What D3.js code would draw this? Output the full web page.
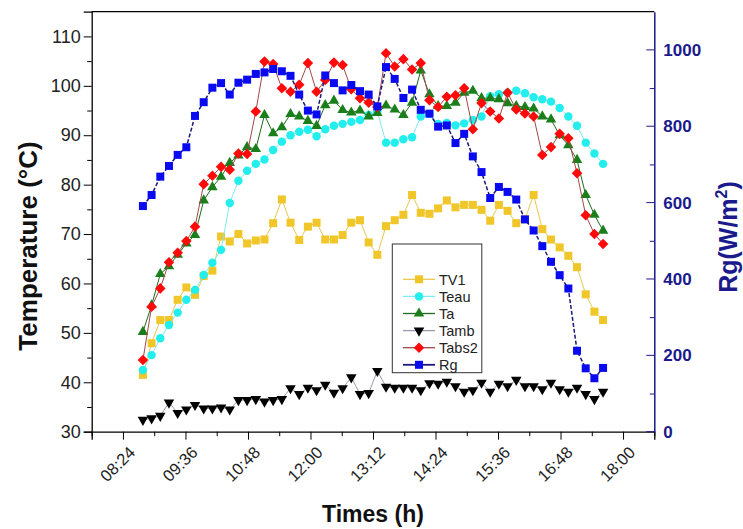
<!DOCTYPE html>
<html><head><meta charset="utf-8">
<script src="https://cdn.jsdelivr.net/npm/d3@7"></script>
<style>body{margin:0;background:#fff;} svg{display:block;font-family:"Liberation Sans",Arial,sans-serif;}</style>
</head><body><svg id="c" width="743" height="529"></svg>
<script>
// ---- data ----
const times = ["08:47","08:57","09:07","09:17","09:27","09:37","09:47","09:57","10:07","10:17",
"10:27","10:37","10:47","10:57","11:07","11:17","11:27","11:37","11:47","11:57",
"12:07","12:17","12:27","12:37","12:47","12:57","13:07","13:17","13:27","13:37",
"13:47","13:57","14:07","14:17","14:27","14:37","14:47","14:57","15:07","15:17",
"15:27","15:37","15:47","15:57","16:07","16:17","16:27","16:37","16:47","16:57",
"17:07","17:17","17:27","17:37"];
const TV1 = [41.5,47.9,52.6,52.6,56.7,59.2,57.7,61.5,62.6,69.5,
68.5,70.0,68.1,68.7,68.9,72.2,77.0,72.3,68.8,71.5,
72.3,68.9,68.9,69.8,72.3,72.8,68.3,65.8,71.6,72.8,
73.9,77.9,74.3,74.1,75.2,76.8,75.4,75.9,75.9,74.9,
72.7,75.9,74.7,72.2,73.0,77.9,71.0,68.9,67.3,65.6,
63.3,57.8,54.3,52.6];
const Teau = [42.5,45.5,48.9,51.6,54.1,56.7,58.7,61.7,64.2,66.8,
76.3,80.8,82.8,84.2,85.1,87.0,88.7,90.0,90.7,91.1,
89.8,91.2,91.9,92.3,92.7,93.1,94.1,94.8,88.5,88.5,
89.2,89.6,93.8,94.3,92.3,92.5,92.0,92.4,93.1,93.8,
97.9,98.3,98.6,99.0,98.5,97.7,97.3,96.8,95.5,93.8,
91.9,88.5,86.3,84.2];
const Ta = [50.2,55.6,61.9,63.5,65.8,68.1,69.8,76.8,79.5,81.6,
84.4,85.9,87.6,87.2,94.1,90.4,91.6,94.3,93.8,92.9,
91.9,96.1,97.0,95.1,94.6,95.0,93.8,94.5,96.0,95.2,
94.1,96.6,103.1,98.3,95.9,95.9,96.6,98.6,99.0,97.5,
97.5,97.3,96.5,95.9,95.7,95.4,93.8,93.2,90.0,88.0,
85.0,77.9,73.9,70.7];
const Tamb = [32.4,32.7,33.2,35.9,33.8,34.5,35.4,34.7,34.7,34.9,
34.5,36.4,36.4,36.6,36.1,36.4,36.6,38.8,37.6,38.9,
38.4,39.5,37.9,38.8,41.0,37.6,37.8,42.3,39.1,38.9,
38.9,38.9,38.4,39.8,39.7,40.1,39.2,38.1,38.4,39.9,
38.1,39.7,39.2,40.5,39.2,39.2,38.6,39.9,38.6,38.1,
38.9,37.6,36.6,38.1];
const Tabs2 = [44.5,55.3,59.0,64.3,66.2,68.6,71.5,80.1,81.8,83.6,
83.0,86.3,86.2,94.8,104.9,104.4,99.5,98.8,100.2,104.6,
98.8,101.2,104.7,104.2,99.3,97.5,96.6,95.7,106.6,103.9,
105.4,103.3,104.6,97.1,95.7,97.8,98.1,99.5,91.2,96.5,
94.8,93.4,98.6,95.2,94.4,93.8,86.0,87.6,90.3,89.4,
82.3,73.8,70.0,68.0];
const Rg = [591,620,668,696,725,745,827,863,901,913,
883,914,922,937,941,950,944,932,883,841,
831,933,913,894,908,892,883,852,955,924,
874,896,843,833,799,802,756,780,721,680,
612,641,628,608,556,527,486,445,410,375,
212,166,140,167];
const leftTicks = [30,40,50,60,70,80,90,100,110];
const rightTicks = [0,200,400,600,800,1000];
const xTickLabels = ["08:24","09:36","10:48","12:00","13:12","14:24","15:36","16:48","18:00"];
const xDomain = ["07:48","18:36"];

// ---- drawing ----
const parse = s => { const [h,m] = s.split(":").map(Number); return h*60+m; };
const svg = d3.select("#c");
const m = {l:91.7, r:654.3, t:11.7, b:431.7};
const navy = "#1a1a8c";
const x = d3.scaleLinear().domain(xDomain.map(parse)).range([m.l, m.r]);
const yL = d3.scaleLinear().domain([30,115]).range([m.b, m.t]);
const yR = d3.scaleLinear().domain([0,1100]).range([m.b, m.t]);

function minor(axis, vals, g){
  g.call(axis.tickValues(vals).tickFormat("").tickSize(4.5));
  g.select(".domain").remove();
}
const tv = times.map(parse);
const xMajor = xTickLabels.map(parse);
const xMinor = xMajor.map(v=>v-36).concat([xMajor[xMajor.length-1]+36]);

// bottom axis
const gx = svg.append("g").attr("transform",`translate(0,${m.b})`);
minor(d3.axisBottom(x), xMinor, gx.append("g"));
const gxM = gx.append("g").call(d3.axisBottom(x).tickValues(xMajor).tickSize(8)
   .tickFormat((d,i)=>xTickLabels[i]));
gxM.select(".domain").attr("stroke","#000").attr("stroke-width",1.3);
gxM.selectAll("text").attr("font-size",16.5).attr("fill","#222")
   .attr("text-anchor","end").attr("dy",null)
   .attr("transform","translate(5,14) rotate(-45)");

// left axis
const gl = svg.append("g").attr("transform",`translate(${m.l},0)`);
minor(d3.axisLeft(yL), [35,45,55,65,75,85,95,105], gl.append("g"));
const glM = gl.append("g").call(d3.axisLeft(yL).tickValues(leftTicks).tickSize(8).tickPadding(3));
glM.select(".domain").attr("stroke-width",1.3);
glM.selectAll("text").attr("font-size",18).attr("fill","#222");

// right axis
const gr = svg.append("g").attr("transform",`translate(${m.r},0)`);
const grm = gr.append("g");
minor(d3.axisRight(yR), [100,300,500,700,900], grm);
grm.selectAll("line").attr("stroke",navy).attr("x1",-4.5).attr("x2",0);
const grM = gr.append("g").call(d3.axisRight(yR).tickValues(rightTicks).tickSize(0).tickPadding(9)
   .tickFormat(d3.format("d")));
grM.select(".domain").attr("stroke",navy).attr("stroke-width",1.5);
grM.selectAll("text").attr("font-size",17).attr("font-weight","bold").attr("fill",navy);
gr.append("g").selectAll("line").data(rightTicks).join("line")
  .attr("x1",-8).attr("x2",0).attr("y1",d=>yR(d)).attr("y2",d=>yR(d)).attr("stroke",navy);

// top frame
svg.append("line").attr("x1",m.l).attr("x2",m.r).attr("y1",m.t).attr("y2",m.t)
  .attr("stroke","#000").attr("stroke-width",1.3);

// series
const sq = d3.symbol().type(d3.symbolSquare).size(64);
const ci = d3.symbol().type(d3.symbolCircle).size(56);
const tri = d3.symbol().type(d3.symbolTriangle).size(48);
const dia = d3.symbol().type(d3.symbolSquare).size(56);
const series = [
  {name:"TV1", data:TV1, y:yL, line:"#e8c850", lw:1, fill:"#f0c628", sym:sq, rot:0},
  {name:"Teau", data:Teau, y:yL, line:"#7eeaf2", lw:1, fill:"#22eeee", sym:ci, rot:0},
  {name:"Ta", data:Ta, y:yL, line:"#1e6a1e", lw:1, fill:"#1a7f1a", sym:tri, rot:0},
  {name:"Tamb", data:Tamb, y:yL, line:"#9a9aac", lw:1, fill:"#000000", sym:tri, rot:180},
  {name:"Tabs2", data:Tabs2, y:yL, line:"#a04848", lw:1, fill:"#ff0a0a", sym:dia, rot:45},
  {name:"Rg", data:Rg, y:yR, line:"#1a1a7a", lw:1.5, fill:"#0a0af0", sym:sq, rot:0, dash:"4,2"}
];
const plot = svg.append("g");
series.forEach(s=>{
  const pts = s.data.map((v,i)=>[x(tv[i]), s.y(v)]);
  plot.append("path").attr("d", d3.line()(pts)).attr("fill","none")
    .attr("stroke",s.line).attr("stroke-width",s.lw).attr("stroke-dasharray",s.dash||null);
  plot.append("g").selectAll("path").data(pts).join("path")
    .attr("d", s.sym).attr("fill", s.fill)
    .attr("transform", d=>`translate(${d[0]},${d[1]}) rotate(${s.rot})`);
});

// legend
const lg = svg.append("g");
lg.append("rect").attr("x",392.3).attr("y",244).attr("width",89.5).attr("height",128.7)
  .attr("fill","#fff").attr("stroke","#333").attr("stroke-width",1);
series.forEach((s,i)=>{
  const yy = 279.3 + i*17.1;
  lg.append("line").attr("x1",403).attr("x2",435).attr("y1",yy).attr("y2",yy)
    .attr("stroke",s.line).attr("stroke-width",s.lw+0.3);
  lg.append("path").attr("d",s.sym).attr("fill",s.fill)
    .attr("transform",`translate(419,${yy}) rotate(${s.rot})`);
  lg.append("text").attr("x",439).attr("y",yy).attr("dy","0.36em")
    .attr("font-size",14.5).attr("fill","#222").text(s.name);
});

// axis titles
svg.append("text").attr("transform",`translate(37,246) rotate(-90)`)
  .attr("text-anchor","middle").attr("font-size",26).attr("font-weight","bold").attr("fill","#111")
  .text("Temperature (°C)");
svg.append("text").attr("x",(m.l+m.r)/2).attr("y",522).attr("text-anchor","middle")
  .attr("font-size",23).attr("font-weight","bold").attr("fill","#111").text("Times (h)");
const rt = svg.append("text").attr("transform",`translate(737,237) rotate(-90)`)
  .attr("text-anchor","middle").attr("font-size",25).attr("font-weight","bold").attr("fill",navy);
rt.append("tspan").text("Rg(W/m");
rt.append("tspan").attr("font-size",16).attr("dy",-10).text("2");
rt.append("tspan").attr("dy",10).text(")");
</script></body></html>
